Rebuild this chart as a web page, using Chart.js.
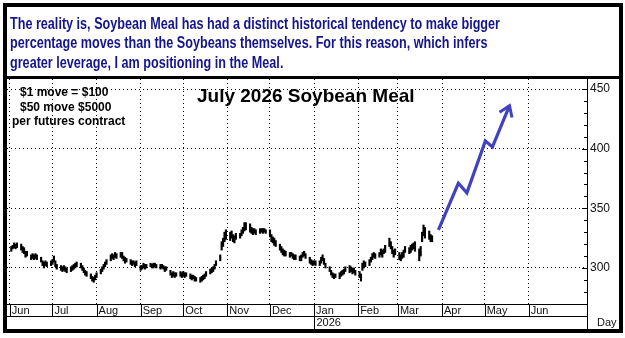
<!DOCTYPE html>
<html>
<head>
<meta charset="utf-8">
<script src="https://cdn.jsdelivr.net/npm/chart.js@4.4.1/dist/chart.umd.min.js"></script>
<style>
    body { margin: 0; background: #fff; }
    #wrap { position: relative; width: 625px; height: 338px; }
    #chart { position: absolute; left: 0; top: 0; }
    .txt {
        position: absolute;
        font-family: "Liberation Sans", Arial, sans-serif;
        font-weight: bold;
        white-space: nowrap;
        line-height: 1;
        color: #000;
    }
    #intro {
        left: 10px;
        top: 13.5px;
        font-size: 16px;
        line-height: 19.5px;
        color: #14148c;
        transform-origin: 0 0;
    }
</style>
</head>
<body>
<div id="wrap">
    <canvas id="chart" width="625" height="338"></canvas>
    <div id="intro" class="txt"><span id="line1">The reality is, Soybean Meal has had a distinct historical tendency to make bigger</span><br>percentage moves than the Soybeans themselves. For this reason, which infers<br>greater leverage, I am positioning in the Meal.</div>
    <div class="txt" style="left:20px; top:85.5px; font-size:12px;">$1 move = $100</div>
    <div class="txt" style="left:20px; top:100.5px; font-size:12px;">$50 move $5000</div>
    <div class="txt" style="left:12px; top:115px; font-size:12px;">per futures contract</div>
    <div class="txt" style="left:197px; top:86px; font-size:19px;">July 2026 Soybean Meal</div>
</div>

<script>
// x values are calendar days counted from 1 Jun 2025
const monthLabels = ["Jun", "Jul", "Aug", "Sep", "Oct", "Nov", "Dec", "Jan", "Feb", "Mar", "Apr", "May", "Jun"];
const monthStarts = [0, 30, 61, 92, 122, 153, 183, 214, 245, 273, 304, 334, 365];
const yearLabel = "2026";
const yTicks = [300, 350, 400, 450];

// daily bars, Jun 2 2025 .. Mar 25 2026 (one per weekday)
const lows = [
    314, 316, 317, 316, 317, 315, 313, 312, 309, 310, 307, 308, 307, 308, 307, 305, 302, 300, 302, 301, 302,
    303, 305, 301, 299, 298, 297, 298, 297, 296, 297, 298, 299, 300, 301, 300, 298, 296, 294, 293, 291, 289, 288, 290,
    292, 295, 297, 299, 301, 303, 306, 308, 307, 309, 308, 309, 308, 306, 304, 305, 303, 302, 303, 301, 302,
    298, 299, 300, 299, 300, 301, 300, 300, 301, 300, 299, 300, 299, 297, 298, 294, 292, 293, 292, 293, 293, 292,
    293, 292, 293, 291, 290, 291, 289, 289, 288, 289, 290, 291, 293, 295, 296, 297, 299, 302, 306, 315, 318, 322, 324,
    323, 325, 322, 321, 324, 325, 327, 329, 331, 332, 330, 329, 328, 329, 328, 329, 330, 329, 330, 329,
    326, 322, 321, 319, 318, 315, 313, 311, 310, 310, 309, 310, 308, 307, 307, 306, 306, 309, 310, 308, 304, 303, 302,
    303, 302, 302, 304, 306, 303, 300, 297, 294, 292, 291, 292, 291, 293, 294, 295, 297, 296, 297, 295, 296, 294,
    292, 289, 298, 300, 301, 302, 305, 307, 309, 308, 309, 311, 309, 312, 313, 318, 316, 312, 309, 311,
    307, 306, 308, 309, 313, 312, 313, 315, 316, 314, 306, 310, 322, 327, 325, 324, 322, 322
];
const highs = [
    318, 319, 321, 320, 321, 320, 318, 317, 314, 314, 311, 312, 311, 312, 311, 309, 306, 305, 306, 305, 306,
    307, 310, 306, 303, 302, 301, 302, 301, 300, 301, 302, 303, 304, 305, 304, 302, 300, 298, 297, 295, 293, 292, 294,
    296, 299, 301, 303, 305, 307, 311, 312, 311, 313, 312, 313, 313, 310, 309, 308, 307, 306, 306, 305, 306,
    302, 302, 304, 303, 303, 304, 303, 304, 304, 303, 303, 303, 302, 301, 301, 298, 296, 297, 296, 296, 297, 296,
    297, 296, 296, 295, 294, 294, 293, 292, 292, 293, 294, 295, 297, 299, 300, 301, 303, 306, 311, 322, 325, 330, 332,
    330, 331, 328, 327, 329, 329, 332, 334, 338, 338, 337, 334, 333, 333, 332, 333, 333, 333, 333, 332,
    332, 328, 326, 325, 323, 320, 318, 316, 315, 314, 313, 313, 312, 311, 311, 310, 311, 313, 314, 312, 309, 307, 306,
    306, 306, 306, 309, 311, 308, 304, 301, 298, 296, 295, 295, 296, 297, 298, 299, 301, 302, 301, 300, 300, 298,
    297, 295, 304, 306, 305, 307, 309, 312, 313, 312, 313, 316, 315, 316, 319, 325, 322, 318, 315, 316,
    313, 311, 313, 315, 318, 317, 319, 320, 321, 322, 316, 318, 330, 336, 334, 331, 328, 327
];

// hand drawn projection arrow
const arrowDays = [301.5, 315.5, 321.5, 334.5, 339.5, 351.5];
const arrowPrices = [332, 371, 363, 406.5, 401.5, 436];

const FONT = '"Liberation Sans", Arial, sans-serif';
const ARROW_COLOR = "#4242c0";

// weekdays from Jun 2 2025
const barDays = [];
for (let d = 1; barDays.length < lows.length; d++) {
    const wd = new Date(Date.UTC(2025, 5, 1 + d)).getUTCDay();
    if (wd !== 0 && wd !== 6) barDays.push(d);
}

const decorations = {
    id: "decorations",
    afterDraw(chart) {
        const { ctx, chartArea: a, scales: { x, y } } = chart;
        const px = v => Math.round(x.getPixelForValue(v)) + 0.5;
        ctx.save();
        ctx.strokeStyle = "#000";
        ctx.lineWidth = 1;
        ctx.beginPath();
        // month cells
        monthStarts.forEach(v => {
            ctx.moveTo(px(v), a.bottom);
            ctx.lineTo(px(v), a.bottom + 12);
        });
        ctx.moveTo(a.left, a.bottom + 12.5);
        ctx.lineTo(a.right, a.bottom + 12.5);
        ctx.moveTo(px(monthStarts[7]), a.bottom + 12);
        ctx.lineTo(px(monthStarts[7]), a.bottom + 26);
        ctx.moveTo(a.right + 0.5, a.bottom);
        ctx.lineTo(a.right + 0.5, a.bottom + 26);
        // right axis minor ticks
        for (let v = 280; v <= 450; v += 10) {
            const py = Math.round(y.getPixelForValue(v)) + 0.5;
            ctx.moveTo(a.right - (v % 50 === 0 ? 5 : 3), py);
            ctx.lineTo(a.right, py);
        }
        ctx.stroke();

        ctx.fillStyle = "#111";
        ctx.font = "11px " + FONT;
        ctx.textBaseline = "middle";
        ctx.fillText(yearLabel, px(monthStarts[7]) + 2, a.bottom + 19);
        ctx.fillText("Day", a.right + 10, a.bottom + 19);

        // frame
        ctx.fillStyle = "#000";
        ctx.lineWidth = 4;
        ctx.strokeRect(5, 5, 616, 326);
        ctx.fillRect(3, 76, 620, 3);

        // arrow head
        const pts = chart.getDatasetMeta(1).data;
        const tip = pts[pts.length - 1];
        const prev = pts[pts.length - 2];
        const ang = Math.atan2(prev.y - tip.y, prev.x - tip.x);
        ctx.strokeStyle = ARROW_COLOR;
        ctx.lineWidth = 3;
        ctx.lineJoin = "miter";
        ctx.beginPath();
        ctx.moveTo(tip.x + 12 * Math.cos(ang + 0.6), tip.y + 12 * Math.sin(ang + 0.6));
        ctx.lineTo(tip.x, tip.y);
        ctx.lineTo(tip.x + 12 * Math.cos(ang - 0.6), tip.y + 12 * Math.sin(ang - 0.6));
        ctx.stroke();
        ctx.restore();
    }
};

new Chart(document.getElementById("chart"), {
    type: "bar",
    data: {
        datasets: [{
            type: "bar",
            data: barDays.map((d, i) => ({ x: d, y: [lows[i], highs[i]] })),
            backgroundColor: "#000",
            barThickness: 1.5,
            borderWidth: 0
        }, {
            type: "line",
            data: arrowDays.map((d, i) => ({ x: d, y: arrowPrices[i] })),
            borderColor: ARROW_COLOR,
            borderWidth: 3.2,
            pointRadius: 0,
            tension: 0,
            borderJoinStyle: "miter"
        }]
    },
    options: {
        responsive: false,
        animation: false,
        devicePixelRatio: 1,
        layout: { padding: { left: 7, top: 79, right: 6, bottom: 8 } },
        plugins: {
            legend: { display: false },
            tooltip: { enabled: false }
        },
        scales: {
            x: {
                type: "linear",
                min: -2,
                max: 406,
                offset: false,
                afterBuildTicks: s => { s.ticks = monthStarts.map(v => ({ value: v })); },
                afterFit: s => { s.height = 26; },
                ticks: {
                    autoSkip: false,
                    maxRotation: 0,
                    align: "start",
                    labelOffset: 2,
                    padding: 0,
                    color: "#111",
                    font: { family: FONT, size: 11 },
                    callback: v => monthLabels[monthStarts.indexOf(v)]
                },
                grid: { color: "#000", lineWidth: 1, drawTicks: false, offset: false },
                border: { display: true, color: "#000", dash: [1, 3] }
            },
            y: {
                type: "linear",
                position: "right",
                min: 269.8,
                max: 458.4,
                afterBuildTicks: s => { s.ticks = yTicks.map(v => ({ value: v })); },
                afterFit: s => { s.width = 32; },
                ticks: {
                    padding: 3,
                    color: "#111",
                    font: { family: FONT, size: 12 }
                },
                grid: { color: "#000", lineWidth: 1, drawTicks: false },
                border: { display: true, color: "#000", dash: [1, 3] }
            }
        }
    },
    plugins: [decorations]
});

const intro = document.getElementById("intro");
const w = document.getElementById("line1").getBoundingClientRect().width;
intro.style.transform = "scaleX(" + (490 / w) + ")";
</script>
</body>
</html>
